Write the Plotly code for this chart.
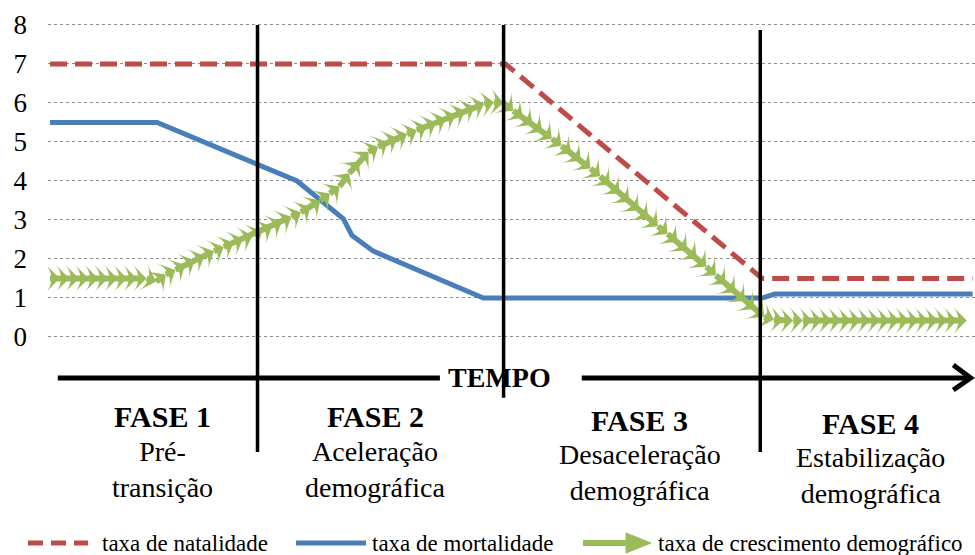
import plotly.graph_objects as go

# --- dados -----------------------------------------------------------------
# eixo do tempo (unidades arbitrárias) para a taxa de crescimento
tempo = list(range(96))
crescimento = [
    1.5, 1.5, 1.5, 1.5, 1.5, 1.5, 1.5, 1.5, 1.5, 1.5, 1.5,
    1.42, 1.6, 1.72, 1.85, 1.97, 2.08, 2.2, 2.31, 2.42, 2.52,
    2.6, 2.72, 2.84, 2.96, 3.08, 3.2, 3.34, 3.5, 3.68, 3.86,
    4.2, 4.5, 4.75, 4.88, 5.0, 5.1, 5.2, 5.3, 5.4, 5.5,
    5.6, 5.7, 5.8, 5.9, 5.98, 6.02, 6.0, 5.8, 5.63, 5.45,
    5.27, 5.08, 4.9, 4.72, 4.52, 4.32, 4.12, 3.9, 3.68, 3.46,
    3.24, 3.04, 2.84, 2.64, 2.44, 2.22, 2.02, 1.8, 1.58, 1.36,
    1.14, 0.92, 0.72, 0.52, 0.44,
    0.42, 0.42, 0.42, 0.42, 0.42, 0.42, 0.42, 0.42, 0.42, 0.42,
    0.42, 0.42, 0.42, 0.42, 0.42, 0.42, 0.42, 0.42, 0.42, 0.42,
]

tempo_natalidade = [0, 47.2, 73.8, 95.6]
natalidade = [7, 7, 1.5, 1.5]

tempo_mortalidade = [0, 11.1, 25.6, 30.4, 31.3, 33.5, 44.9, 73.8, 75.1, 95.6]
mortalidade = [5.5, 5.5, 4.0, 3.03, 2.6, 2.2, 1.0, 1.0, 1.1, 1.1]

y_ticks = [0, 1, 2, 3, 4, 5, 6, 7, 8]

# limites entre as fases (no eixo do tempo)
limites_fases = [21.5, 47.0, 73.6]
fim_linha_fase = [-2.95, -1.56, -2.95]
topo_linha_fase = [8.0, 8.0, 7.87]

fases_titulo = ["FASE 1", "FASE 2", "FASE 3", "FASE 4"]
fases_desc = [["Pré-", "transição"], ["Aceleração", "demográfica"],
              ["Desaceleração", "demográfica"], ["Estabilização", "demográfica"]]
fases_x = [11.7, 33.7, 61.1, 85.0]
fases_y_titulo = [-2.03, -2.03, -2.13, -2.21]
fases_y_desc = [-3.40, -3.41, -3.47, -3.54]

legenda = ["taxa de natalidade", "taxa de mortalidade", "taxa de crescimento demográfico"]

VERMELHO = "#BE4B48"
AZUL = "#4A7EBB"
VERDE = "#9BBB59"
FONTE = "Liberation Serif"

W, H = 975, 555
ML = 48


def px(x):
    return (x - ML) / (W - ML)


def py(y):
    return 1 - y / H


fig = go.Figure()

fig.add_trace(go.Scatter(
    x=tempo_mortalidade, y=mortalidade, mode="lines",
    line=dict(color=AZUL, width=5), showlegend=False, hoverinfo="skip"))

fig.add_trace(go.Scatter(
    x=tempo_natalidade, y=natalidade, mode="lines",
    line=dict(color=VERMELHO, width=5, dash="17px,8px"), showlegend=False, hoverinfo="skip"))

fig.add_trace(go.Scatter(
    x=tempo, y=crescimento, mode="lines+markers",
    line=dict(color=VERDE, width=6),
    marker=dict(symbol="arrow-wide", angleref="previous", size=20, color=VERDE,
                line=dict(width=0)),
    showlegend=False, hoverinfo="skip"))

shapes = []
# linhas verticais que separam as fases
for xl, y0, y1 in zip(limites_fases, fim_linha_fase, topo_linha_fase):
    shapes.append(dict(type="line", xref="x", yref="y", x0=xl, x1=xl, y0=y0, y1=y1,
                       line=dict(color="black", width=3.5)))

# eixo do TEMPO
shapes.append(dict(type="line", xref="x", yref="y", x0=0.8, x1=40.4, y0=-1.05, y1=-1.05,
                   line=dict(color="black", width=5)))
shapes.append(dict(type="line", xref="x", yref="y", x0=55.1, x1=95.3, y0=-1.05, y1=-1.05,
                   line=dict(color="black", width=5)))
shapes.append(dict(type="path", xref="x", yref="y",
                   path="M 93.6,-0.72 L 95.4,-1.05 L 93.6,-1.36",
                   line=dict(color="black", width=5)))

# amostras da legenda
ly = 543
shapes.append(dict(type="line", xref="paper", yref="paper",
                   x0=px(28), x1=px(88), y0=py(ly), y1=py(ly),
                   line=dict(color=VERMELHO, width=5, dash="15px,8px")))
shapes.append(dict(type="line", xref="paper", yref="paper",
                   x0=px(296), x1=px(366), y0=py(ly), y1=py(ly),
                   line=dict(color=AZUL, width=5)))
shapes.append(dict(type="line", xref="paper", yref="paper",
                   x0=px(583), x1=px(630), y0=py(ly), y1=py(ly),
                   line=dict(color=VERDE, width=6)))
shapes.append(dict(type="path", xref="paper", yref="paper",
                   path=f"M {px(626)},{py(ly - 10)} L {px(651)},{py(ly)} L {px(626)},{py(ly + 10)} Z",
                   fillcolor=VERDE, line=dict(color=VERDE, width=1)))

annotations = []
annotations.append(dict(x=46.6, y=-1.05, xref="x", yref="y", text="<b>TEMPO</b>",
                        showarrow=False, font=dict(family=FONTE, size=28, color="black")))
for tit, desc, xf, yt, yd in zip(fases_titulo, fases_desc, fases_x, fases_y_titulo, fases_y_desc):
    annotations.append(dict(x=xf, y=yt, xref="x", yref="y", text=f"<b>{tit}</b>",
                            showarrow=False, font=dict(family=FONTE, size=30, color="black")))
    annotations.append(dict(x=xf, y=yd, xref="x", yref="y",
                            text=f"{desc[0]}<br>{desc[1]}",
                            showarrow=False, align="center",
                            font=dict(family=FONTE, size=28, color="black")))
for txt, xs in zip(legenda, [100, 370, 656]):
    annotations.append(dict(x=px(xs), y=py(ly), xref="paper", yref="paper", text=txt,
                            showarrow=False, xanchor="left", yanchor="middle",
                            font=dict(family=FONTE, size=23, color="black")))

fig.update_layout(
    width=W, height=H,
    margin=dict(l=ML, r=0, t=0, b=0),
    paper_bgcolor="white", plot_bgcolor="white",
    font=dict(family=FONTE),
    shapes=shapes, annotations=annotations,
    xaxis=dict(range=[-0.21, 95.85], visible=False),
    yaxis=dict(range=[-5.59, 8.64], tickvals=y_ticks, showgrid=True,
               gridcolor="#8C8C8C", griddash="dot", gridwidth=1,
               zeroline=False, showline=False, ticks="",
               ticklabelstandoff=20,
               tickfont=dict(family=FONTE, size=27, color="black")),
)

fig.write_html("out.html")
